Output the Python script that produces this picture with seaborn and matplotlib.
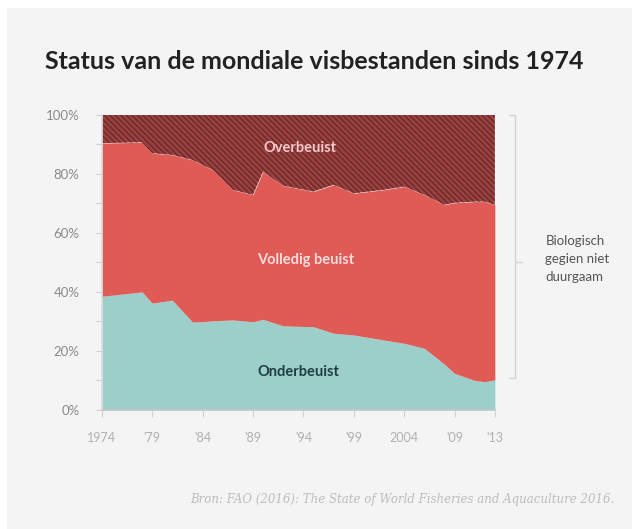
import numpy as np
import pandas as pd
import matplotlib
matplotlib.use("Agg")
import matplotlib.pyplot as plt
import seaborn as sns
from matplotlib.patches import Rectangle

sns.set_theme(style="white")
plt.rcParams["font.family"] = ["Lato", "DejaVu Sans"]
plt.rcParams["hatch.linewidth"] = 0.9

# share of fish stocks (%) per year
years = [1974, 1978, 1979, 1981, 1983, 1984, 1985, 1987, 1989, 1990, 1992,
         1995, 1997, 1999, 2002, 2004, 2006, 2008, 2009, 2011, 2012, 2013]
onderbeuist = [38.5, 40.0, 36.2, 37.2, 29.8, 29.9, 30.2, 30.5, 29.9, 30.7, 28.5,
               28.2, 26.0, 25.4, 23.7, 22.6, 20.9, 15.5, 12.4, 10.0, 9.6, 10.2]
volledig = [51.9, 50.7, 50.8, 49.2, 54.9, 53.1, 51.2, 44.1, 43.0, 50.1, 47.5,
            45.8, 50.3, 48.0, 50.9, 53.1, 52.0, 54.0, 57.8, 60.6, 61.0, 59.3]
overbeuist = [9.6, 9.3, 13.0, 13.6, 15.3, 17.0, 18.6, 25.4, 27.1, 19.2, 24.0,
              26.0, 23.7, 26.6, 25.4, 24.3, 27.1, 30.5, 29.8, 29.4, 29.4, 30.5]

tick_years = [1974, 1979, 1984, 1989, 1994, 1999, 2004, 2009, 2013]
tick_labels = ["1974", "'79", "'84", "'89", "'94", "'99", "2004", "'09", "'13"]

df = pd.DataFrame({"year": years, "Onderbeuist": onderbeuist,
                   "Volledig beuist": volledig, "Overbeuist": overbeuist})

fig = plt.figure(figsize=(6.32, 5.29), dpi=100)
fig.patch.set_facecolor("white")
fig.patches.append(Rectangle((7 / 632, 0), 1, 1 - 8 / 529, transform=fig.transFigure,
                             facecolor="#f4f4f4", edgecolor="none", zorder=-10))

ax = fig.add_axes([0.161, 0.225, 0.622, 0.558])
ax.set_facecolor("none")

polys = ax.stackplot(df["year"], df["Onderbeuist"], df["Volledig beuist"], df["Overbeuist"],
                     colors=["#9dcfca", "#e05a56", "#9c4141"], linewidth=0)
polys[2].set_hatch("\\\\\\\\\\\\")
polys[2].set_edgecolor("#662828")
polys[2].set_linewidth(0)

ax.set_xlim(1974, 2013)
ax.set_ylim(0, 100)
ax.set_xticks(tick_years)
ax.set_xticklabels(tick_labels)
ax.set_yticks([0, 20, 40, 60, 80, 100])
ax.set_yticklabels([f"{v}%" for v in [0, 20, 40, 60, 80, 100]])
ax.set_yticks([10, 30, 50, 70, 90], minor=True)
ax.tick_params(axis="y", which="both", direction="out", length=4, width=0.8,
               color="#cfcfcf", labelsize=9.5, labelcolor="#8a8a8a", pad=12, left=True)
ax.tick_params(axis="x", direction="out", length=5, width=0.8, color="#cfcfcf",
               labelsize=9, labelcolor="#b0b0b0", pad=11, bottom=True)
for s in ["top", "right"]:
    ax.spines[s].set_visible(False)
ax.spines["left"].set_color("#dcdcdc")
ax.spines["bottom"].set_color("#c8c8c8")

ax.text(1993.7, 88.8, "Overbeuist", ha="center", va="center", fontsize=10.5,
        fontweight="bold", color="#f6c8c8")
ax.text(1994.2, 50.8, "Volledig beuist", ha="center", va="center", fontsize=10.5,
        fontweight="bold", color="#fadcdc")
ax.text(1993.5, 12.9, "Onderbeuist", ha="center", va="center", fontsize=10.5,
        fontweight="bold", color="#1e3d42")

# bracket for the non-sustainable part
ax.plot([2014.4, 2015.0, 2015.0, 2014.4], [100, 100, 10.8, 10.8], color="#d2d2d2",
        lw=1, clip_on=False)
ax.plot([2015.0, 2015.7], [50.2, 50.2], color="#d2d2d2", lw=1, clip_on=False)
ax.text(2018.0, 51, "Biologisch\ngegien niet\nduurgaam", ha="left", va="center",
        fontsize=9.5, color="#555555", linespacing=1.6)

fig.text(0.071, 0.883, "Status van de mondiale visbestanden sinds 1974", ha="left",
         va="center", fontsize=18, fontweight="bold", color="#222222")
fig.text(0.972, 0.055, "Bron: FAO (2016): The State of World Fisheries and Aquaculture 2016.",
         ha="right", va="center", fontsize=8.5, style="italic", color="#bdbdbd",
         family=["DejaVu Serif"])

fig.savefig("out.png", dpi=100)
